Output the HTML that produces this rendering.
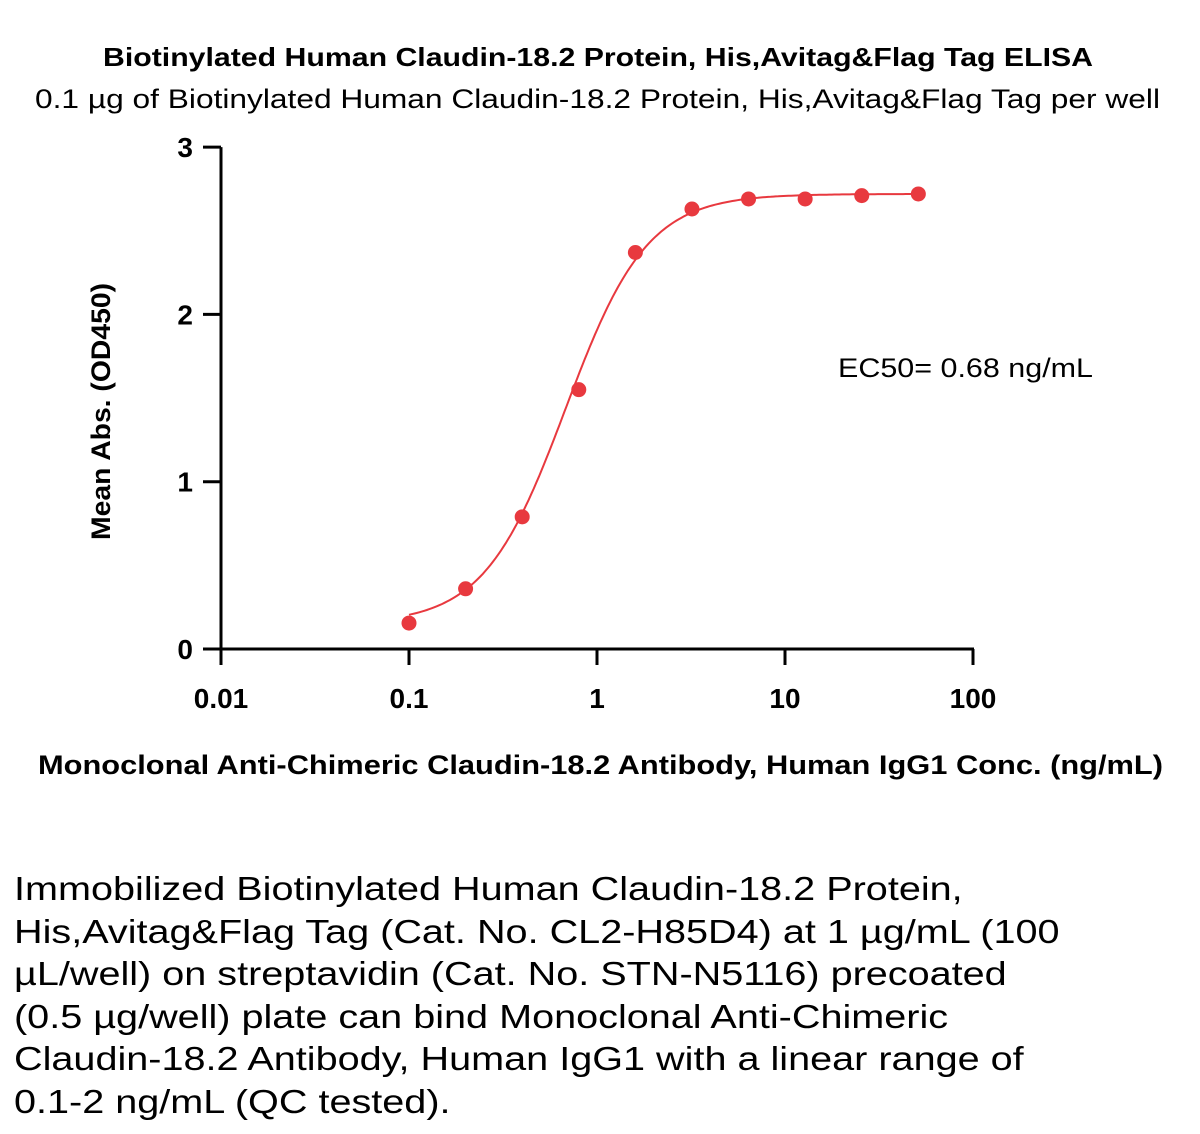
<!DOCTYPE html>
<html><head><meta charset="utf-8"><style>
body{margin:0;background:#fff;width:1200px;height:1134px;overflow:hidden;font-family:"Liberation Sans",sans-serif}
#cap{position:absolute;left:14px;top:868px;font-size:33px;line-height:42.5px;color:#000;width:1000px;transform:scaleX(1.2);transform-origin:0 0;white-space:nowrap}
</style></head><body>
<svg width="1200" height="860" style="position:absolute;left:0;top:0">
<text x="103" y="66" textLength="990" lengthAdjust="spacingAndGlyphs" font-weight="bold" font-size="26">Biotinylated Human Claudin-18.2 Protein, His,Avitag&amp;Flag Tag ELISA</text>
<text x="35" y="108" textLength="1125" lengthAdjust="spacingAndGlyphs" font-size="27">0.1 µg of Biotinylated Human Claudin-18.2 Protein, His,Avitag&amp;Flag Tag per well</text>
<g id="axes"></g>
<path id="curve" fill="none" stroke="#e8393f" stroke-width="2"/>
<g id="pts"></g>
<text x="838" y="377" textLength="255" lengthAdjust="spacingAndGlyphs" font-size="27">EC50= 0.68 ng/mL</text>
<text transform="translate(110,540) rotate(-90)" textLength="257" lengthAdjust="spacingAndGlyphs" font-weight="bold" font-size="27">Mean Abs. (OD450)</text>
<text x="38" y="774" textLength="1125" lengthAdjust="spacingAndGlyphs" font-weight="bold" font-size="27">Monoclonal Anti-Chimeric Claudin-18.2 Antibody, Human IgG1 Conc. (ng/mL)</text>
</svg>
<div id="cap">Immobilized Biotinylated Human Claudin-18.2 Protein,<br>His,Avitag&amp;Flag Tag (Cat. No. CL2-H85D4) at 1 µg/mL (100<br>µL/well) on streptavidin (Cat. No. STN-N5116) precoated<br>(0.5 µg/well) plate can bind Monoclonal Anti-Chimeric<br>Claudin-18.2 Antibody, Human IgG1 with a linear range of<br>0.1-2 ng/mL (QC tested).</div>
<script>
const concs=[0.1,0.2,0.4,0.8,1.6,3.2,6.4,12.8,25.6,51.2];
const absVals=[0.155,0.36,0.79,1.55,2.37,2.63,2.69,2.69,2.71,2.72];
const xTicks=[0.01,0.1,1,10,100];
const xTickLabels=["0.01","0.1","1","10","100"];
const yTicks=[0,1,2,3];
const fitBottom=0.15, fitTop=2.72, fitEC50=0.68, fitHill=2.0;
const NS="http://www.w3.org/2000/svg";
const X=v=>221+(Math.log10(v)+2)*188;
const Y=v=>649-v*167.3;
function mk(t,a,p){const e=document.createElementNS(NS,t);for(const k in a)e.setAttribute(k,a[k]);p.appendChild(e);return e;}
const ax=document.getElementById('axes');
let l=mk('line',{x1:221,y1:Y(3),x2:221,y2:649,stroke:'#000','stroke-width':3},ax);


l=mk('line',{x1:221,y1:649,x2:X(100)+1,y2:649,stroke:'#000','stroke-width':3},ax);


yTicks.forEach(v=>{
 let t=mk('line',{x1:203,y1:Y(v),x2:221,y2:Y(v),stroke:'#000','stroke-width':3},ax);
 
 
 let s=mk('text',{x:193,y:Y(v)+10,'text-anchor':'end','font-weight':'bold','font-size':28},ax);s.textContent=v;
 
 
});
xTicks.forEach((v,i)=>{
 let t=mk('line',{x1:X(v),y1:649,x2:X(v),y2:665,stroke:'#000','stroke-width':3},ax);
 
 
 let s=mk('text',{x:X(v),y:708,'text-anchor':'middle','font-weight':'bold','font-size':28},ax);s.textContent=xTickLabels[i];
 
 
});
let d='';
for(let i=0;i<=200;i++){const lx=-1+i*(Math.log10(51.2)+1)/200;const x=Math.pow(10,lx);
 const y=fitBottom+(fitTop-fitBottom)/(1+Math.pow(fitEC50/x,fitHill));
 d+=(i?'L':'M')+X(x).toFixed(1)+' '+Y(y).toFixed(1);}
document.getElementById('curve').setAttribute('d',d);
const pg=document.getElementById('pts');
concs.forEach((c,i)=>{
 const p=mk('circle',{cx:X(c),cy:Y(absVals[i]),r:7.5,fill:'#e8393f'},pg);
 
 
});
</script>
</body></html>
